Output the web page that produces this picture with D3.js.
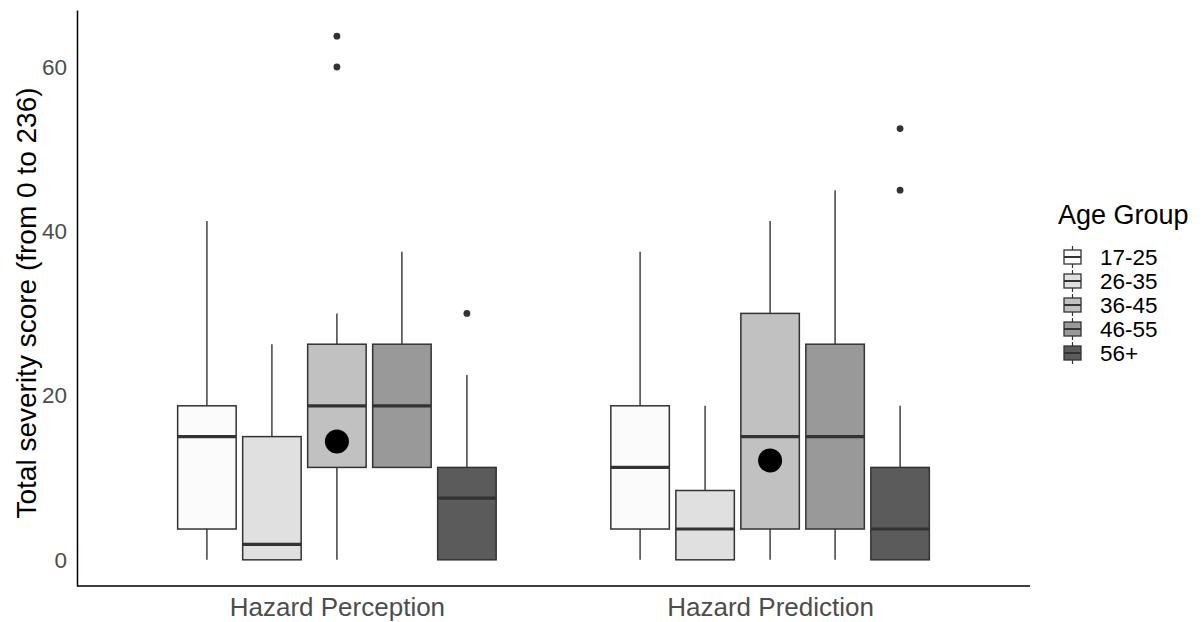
<!DOCTYPE html>
<html>
<head>
<meta charset="utf-8">
<script src="https://cdn.jsdelivr.net/npm/d3@7"></script>
<style>
  body { margin: 0; background: #fff; }
  text { font-family: "Liberation Sans", Arial, sans-serif; }
</style>
</head>
<body>
<div id="chart"></div>
<script>
// task categories and age groups
let categories = ['Hazard Perception', 'Hazard Prediction'];
let ageGroups = ['17-25', '26-35', '36-45', '46-55', '56+'];

// box statistics, one row per category, one entry per age group
let whiskerLow  = [[0, 0, 0, 11.25, 0],        [0, 0, 0, 0, 0]];
let q1          = [[3.75, 0, 11.25, 11.25, 0], [3.75, 0, 3.75, 3.75, 0]];
let medians     = [[15, 1.875, 18.75, 18.75, 7.5], [11.25, 3.75, 15, 15, 3.75]];
let q3          = [[18.75, 15, 26.25, 26.25, 11.25], [18.75, 8.44, 30, 26.25, 11.25]];
let whiskerHigh = [[41.25, 26.25, 30, 37.5, 22.5], [37.5, 18.75, 41.25, 45, 18.75]];
let outliers    = [[[], [], [60, 63.75], [], [30]], [[], [], [], [], [45, 52.5]]];
let means       = [[null, null, 14.4, null, null], [null, null, 12.1, null, null]];

let yTicks = [0, 20, 40, 60];
let fills = ['#fbfbfb', '#e0e0e0', '#c1c1c1', '#999999', '#5b5b5b'];

let width = 1203,
    height = 622,
    mLeft = 77,
    mRight = 1030,
    mTop = 10,
    mBottom = 586,
    ink = '#333333';

let svg = d3.select('#chart').append('svg')
    .attr('width', width)
    .attr('height', height);

let x = d3.scalePoint()
    .domain(categories)
    .range([mLeft, mRight])
    .padding(0.6);

let dodge = d3.scaleBand()
    .domain(ageGroups)
    .range([-162.5, 162.5])
    .paddingInner(0.1)
    .paddingOuter(0.05);

let y = d3.scaleLinear()
    .domain([-3.1875, 66.9375])
    .range([mBottom, mTop]);

let color = d3.scaleOrdinal().domain(ageGroups).range(fills);

// flatten to one record per box
let boxes = [];
categories.forEach((c, ci) => {
	ageGroups.forEach((g, gi) => {
		boxes.push({
			cat: c, grp: g,
			lo: whiskerLow[ci][gi], q1: q1[ci][gi], med: medians[ci][gi],
			q3: q3[ci][gi], hi: whiskerHigh[ci][gi],
			out: outliers[ci][gi], mean: means[ci][gi]
		});
	});
});

let cx = (d) => x(d.cat) + dodge(d.grp) + dodge.bandwidth() / 2;

let grp = svg.selectAll('g.box')
    .data(boxes)
    .enter()
    .append('g')
    .attr('class', 'box');

// whiskers
grp.append('line')
    .attr('x1', cx).attr('x2', cx)
    .attr('y1', (d) => y(d.hi)).attr('y2', (d) => y(d.q3))
    .attr('stroke', ink).attr('stroke-width', 1.4);
grp.append('line')
    .attr('x1', cx).attr('x2', cx)
    .attr('y1', (d) => y(d.q1)).attr('y2', (d) => y(d.lo))
    .attr('stroke', ink).attr('stroke-width', 1.4);

// box
grp.append('rect')
    .attr('x', (d) => x(d.cat) + dodge(d.grp))
    .attr('width', dodge.bandwidth())
    .attr('y', (d) => y(d.q3))
    .attr('height', (d) => y(d.q1) - y(d.q3))
    .attr('fill', (d) => color(d.grp))
    .attr('stroke', ink)
    .attr('stroke-width', 1.5);

// median
grp.append('line')
    .attr('x1', (d) => x(d.cat) + dodge(d.grp))
    .attr('x2', (d) => x(d.cat) + dodge(d.grp) + dodge.bandwidth())
    .attr('y1', (d) => y(d.med)).attr('y2', (d) => y(d.med))
    .attr('stroke', ink).attr('stroke-width', 3.2);

// outliers
grp.selectAll('circle.out')
    .data((d) => d.out.map((v) => ({v: v, cx: cx(d)})))
    .enter().append('circle')
    .attr('class', 'out')
    .attr('cx', (o) => o.cx)
    .attr('cy', (o) => y(o.v))
    .attr('r', 3.4)
    .attr('fill', ink);

// means
grp.filter((d) => d.mean !== null)
    .append('circle')
    .attr('cx', cx)
    .attr('cy', (d) => y(d.mean))
    .attr('r', 12)
    .attr('fill', '#000');

// axes
let yAxis = svg.append('g')
    .attr('transform', 'translate(' + mLeft + ',0)')
    .call(d3.axisLeft(y).tickValues(yTicks).tickSize(0).tickPadding(10));
yAxis.select('.domain').attr('stroke', '#000').attr('stroke-width', 1.5);
yAxis.selectAll('text')
    .attr('fill', '#4d4d4d')
    .style('font-size', '22.5px');

let xAxis = svg.append('g')
    .attr('transform', 'translate(0,' + mBottom + ')')
    .call(d3.axisBottom(x).tickSize(0).tickPadding(12));
xAxis.select('.domain').attr('stroke', '#000').attr('stroke-width', 1.5)
    .attr('d', 'M' + mLeft + ',0H' + mRight);
xAxis.selectAll('text')
    .attr('fill', '#4d4d4d')
    .style('font-size', '26px');

// y title
svg.append('text')
    .attr('transform', 'translate(36,' + 303 + ') rotate(-90)')
    .attr('text-anchor', 'middle')
    .style('font-size', '28px')
    .attr('fill', '#000')
    .text('Total severity score (from 0 to 236)');

// legend
let lg = svg.append('g').attr('transform', 'translate(1058,0)');
lg.append('text')
    .attr('x', 0).attr('y', 224)
    .style('font-size', '27px')
    .attr('fill', '#000')
    .text('Age Group');

let keyH = 24, keyW = 19, keyTop = 245;
let item = lg.selectAll('g.item')
    .data(ageGroups)
    .enter().append('g')
    .attr('class', 'item')
    .attr('transform', (d, i) => 'translate(5,' + (keyTop + i * keyH) + ')');

item.append('line')
    .attr('x1', keyW / 2).attr('x2', keyW / 2)
    .attr('y1', 1).attr('y2', keyH - 1)
    .attr('stroke', ink).attr('stroke-width', 1.2);
item.append('rect')
    .attr('x', 1).attr('width', keyW - 2)
    .attr('y', 5).attr('height', keyH - 10)
    .attr('fill', (d) => color(d))
    .attr('stroke', ink).attr('stroke-width', 1.3);
item.append('line')
    .attr('x1', 1).attr('x2', keyW - 1)
    .attr('y1', keyH / 2).attr('y2', keyH / 2)
    .attr('stroke', ink).attr('stroke-width', 2);
item.append('text')
    .attr('x', 37).attr('y', keyH / 2)
    .attr('dy', '0.35em')
    .style('font-size', '22.5px')
    .attr('fill', '#000')
    .text((d) => d);
</script>
</body>
</html>
